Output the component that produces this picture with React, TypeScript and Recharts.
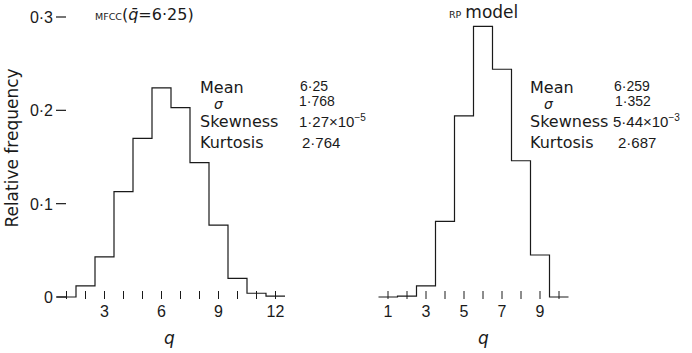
import { LineChart, Line, XAxis, YAxis } from 'recharts';

// histogram bins (q) and relative frequencies
const mfccBins = [1, 2, 3, 4, 5, 6, 7, 8, 9, 10, 11, 12];
const mfccFreq = [0, 0.012, 0.043, 0.113, 0.17, 0.224, 0.203, 0.144, 0.077, 0.02, 0.004, 0.001];
const rpBins = [1, 2, 3, 4, 5, 6, 7, 8, 9, 10];
const rpFreq = [0, 0.001, 0.012, 0.081, 0.194, 0.29, 0.244, 0.146, 0.045, 0];

const mfccTicks = [1, 2, 3, 4, 5, 6, 7, 8, 9, 10, 11, 12];
const mfccTickLabels = [3, 6, 9, 12];
const rpTicks = [1, 2, 3, 4, 5, 6, 7, 8, 9, 10];
const rpTickLabels = [1, 3, 5, 7, 9];
const freqTicks = [0, 0.1, 0.2, 0.3];

const ink = '#1a1a1a';
const numFont = '"Liberation Sans", Arial, sans-serif';
const wordFont = '"DejaVu Sans", sans-serif';

// bins are centred on integers, so steps start at q - 0.5
function toSteps(bins: number[], freq: number[]) {
  const pts = bins.map((q, i) => ({ edge: q - 0.5, f: freq[i] }));
  pts.push({ edge: bins[bins.length - 1] + 0.5, f: freq[freq.length - 1] });
  return pts;
}

const fmt = (v: number) => (v === 0 ? '0' : v.toFixed(1).replace('.', '·'));

function XTick(props: any) {
  const { x, y, payload, labels } = props;
  const show = labels.includes(payload.value);
  return (
    <g>
      <line x1={x} x2={x} y1={y - 6} y2={y + 2} stroke={ink} strokeWidth={1} />
      {show && (
        <text x={x} y={y + 20} textAnchor="middle" fontFamily={numFont} fontSize={16} fill={ink}>
          {payload.value}
        </text>
      )}
    </g>
  );
}

function YTick(props: any) {
  const { x, y, payload } = props;
  return (
    <g>
      <line x1={x - 1} x2={x + 9} y1={y} y2={y} stroke={ink} strokeWidth={1.2} />
      <text x={x - 4} y={y + 6} textAnchor="end" fontFamily={numFont} fontSize={16} fill={ink}>
        {fmt(payload.value)}
      </text>
    </g>
  );
}

function Stat({ x, y, children, font = wordFont, size = 16, italic = false }: any) {
  return (
    <text x={x} y={y} fontFamily={font} fontSize={size} fill={ink} fontStyle={italic ? 'italic' : 'normal'}>
      {children}
    </text>
  );
}

export default function App() {
  const left = toSteps(mfccBins, mfccFreq);
  const right = toSteps(rpBins, rpFreq);

  return (
    <div style={{ position: 'absolute', left: 0, top: 0, width: 692, height: 353, background: '#fff' }}>
      <div style={{ position: 'absolute', left: 0, top: 0 }}>
        <LineChart width={330} height={353} data={left} margin={{ top: 17, right: 45, bottom: 26, left: 0 }}>
          <XAxis
            type="number"
            dataKey="edge"
            domain={[0.5, 12.5]}
            ticks={mfccTicks}
            interval={0}
            axisLine={false}
            tickLine={false}
            tickSize={0}
            tickMargin={0}
            height={30}
            tick={(p: any) => <XTick {...p} labels={mfccTickLabels} />}
          />
          <YAxis
            domain={[0, 0.3]}
            ticks={freqTicks}
            interval={0}
            width={57}
            axisLine={false}
            tickLine={false}
            tickSize={0}
            tickMargin={0}
            tick={(p: any) => <YTick {...p} />}
          />
          <Line type="stepAfter" dataKey="f" stroke={ink} strokeWidth={1.2} dot={false} isAnimationActive={false} />
        </LineChart>
      </div>
      <div style={{ position: 'absolute', left: 350, top: 0 }}>
        <LineChart width={342} height={353} data={right} margin={{ top: 17, right: 123.5, bottom: 26, left: 28.5 }}>
          <XAxis
            type="number"
            dataKey="edge"
            domain={[0.5, 10.5]}
            ticks={rpTicks}
            interval={0}
            axisLine={false}
            tickLine={false}
            tickSize={0}
            tickMargin={0}
            height={30}
            tick={(p: any) => <XTick {...p} labels={rpTickLabels} />}
          />
          <YAxis hide domain={[0, 0.3]} />
          <Line type="stepAfter" dataKey="f" stroke={ink} strokeWidth={1.2} dot={false} isAnimationActive={false} />
        </LineChart>
      </div>
      <svg width={692} height={353} style={{ position: 'absolute', left: 0, top: 0, pointerEvents: 'none' }}>
        <text
          x={12}
          y={148}
          textAnchor="middle"
          dominantBaseline="central"
          transform="rotate(-90 12 148)"
          fontFamily={wordFont}
          fontSize={17}
          fill={ink}
        >
          Relative frequency
        </text>

        <text x={95} y={20} fontFamily={wordFont} fill={ink}>
          <tspan fontSize={9.5}>MFCC</tspan>
          <tspan fontSize={16}>(</tspan>
          <tspan fontSize={16} fontStyle="italic">q̄</tspan>
          <tspan fontSize={16}>=6·25)</tspan>
        </text>
        <text x={449} y={18} fontFamily={wordFont} fill={ink}>
          <tspan fontSize={9.5}>RP</tspan>
          <tspan fontSize={17} dx={4}>model</tspan>
        </text>

        <Stat x={200} y={93}>Mean</Stat>
        <Stat x={214} y={109} size={14} italic>σ</Stat>
        <Stat x={200} y={127}>Skewness</Stat>
        <Stat x={200} y={148}>Kurtosis</Stat>
        <Stat x={300} y={91} font={numFont} size={14}>6·25</Stat>
        <Stat x={299} y={106} font={numFont} size={14}>1·768</Stat>
        <Stat x={299} y={127} font={numFont} size={15}>
          1·27×10<tspan fontSize={10} dy={-6}>−5</tspan>
        </Stat>
        <Stat x={302} y={148} font={numFont} size={15}>2·764</Stat>

        <Stat x={530} y={93}>Mean</Stat>
        <Stat x={544} y={109} size={14} italic>σ</Stat>
        <Stat x={530} y={127}>Skewness</Stat>
        <Stat x={530} y={148}>Kurtosis</Stat>
        <Stat x={614} y={91} font={numFont} size={14}>6·259</Stat>
        <Stat x={615} y={106} font={numFont} size={14}>1·352</Stat>
        <Stat x={613} y={127} font={numFont} size={15}>
          5·44×10<tspan fontSize={10} dy={-6}>−3</tspan>
        </Stat>
        <Stat x={618} y={148} font={numFont} size={15}>2·687</Stat>

        <Stat x={164} y={344} size={17} italic>q</Stat>
        <Stat x={478} y={344} size={17} italic>q</Stat>
      </svg>
    </div>
  );
}
